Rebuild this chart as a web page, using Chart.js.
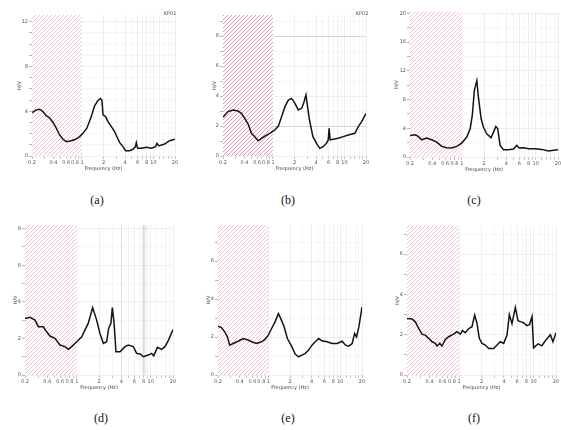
<!DOCTYPE html>
<html><head><meta charset="utf-8">
<script src="https://cdn.jsdelivr.net/npm/chart.js@4/dist/chart.umd.min.js"></script>
<style>
html,body{margin:0;padding:0;background:#fff;width:561px;height:430px;overflow:hidden;position:relative}
canvas{position:absolute}
.cap{position:absolute;font-family:"Liberation Serif","DejaVu Serif",serif;font-size:12px;transform:translate(-50%,-50%);color:#111;white-space:nowrap}
.tag{position:absolute;font-family:"DejaVu Sans",sans-serif;font-size:5px;color:#555;transform:translate(-50%,-50%);white-space:nowrap}
</style></head><body>
<script>
// ---- data ----
const xTickLabels = [0.2,0.4,0.6,0.8,1,2,4,6,8,10,20];
const xGridValues = [0.2,0.3,0.4,0.5,0.6,0.7,0.8,0.9,1,2,3,4,5,6,7,8,9,10,12,14,16,18,20];

const freqA = [0.2,0.23,0.256,0.285,0.317,0.346,0.394,0.438,0.487,0.543,0.604,0.71,0.816,0.929,1.03,1.17,1.35,1.5,1.67,1.82,1.9,1.97,2.14,2.31,2.58,2.86,3.0,3.37,3.75,4.08,4.64,5.17,5.6,5.75,6.0,6.76,7.96,9.34,10.7,11.2,11.9,14.3,16.8,20];
const hvA   = [3.88,4.12,4.18,3.97,3.58,3.46,2.99,2.48,1.88,1.49,1.28,1.37,1.49,1.73,2.03,2.48,3.52,4.48,4.96,5.13,5.0,3.67,3.52,3.07,2.63,2.18,1.88,1.19,0.84,0.48,0.48,0.6,0.84,1.19,0.69,0.69,0.78,0.69,0.84,1.13,0.9,1.07,1.37,1.49];

const freqB = [0.2,0.235,0.276,0.324,0.362,0.403,0.449,0.5,0.557,0.62,0.692,0.77,0.906,1.06,1.19,1.32,1.47,1.64,1.82,2.03,2.26,2.52,2.68,2.89,3.0,3.24,3.62,4.06,4.52,5.03,5.6,5.92,6.1,6.3,6.94,8.16,9.6,11.3,14.0,15.6,17.4,20];
const hvB   = [2.58,2.96,3.07,3.0,2.84,2.51,2.13,1.51,1.29,1.02,1.18,1.33,1.51,1.73,2.0,2.62,3.29,3.73,3.84,3.51,3.07,3.18,3.51,4.07,3.51,2.4,1.29,0.84,0.51,0.62,0.84,1.07,1.84,1.07,1.11,1.18,1.29,1.4,1.51,1.96,2.29,2.84];

const freqC = [0.2,0.234,0.259,0.288,0.336,0.393,0.459,0.537,0.627,0.733,0.857,1.0,1.17,1.3,1.39,1.48,1.6,1.68,1.83,1.96,2.18,2.49,2.69,2.89,3.07,3.3,3.67,4.28,5.0,5.55,5.96,6.84,7.98,9.82,12.1,14.9,17.4,20];
const hvC   = [3.0,3.1,2.87,2.4,2.64,2.4,2.08,1.48,1.3,1.25,1.48,1.94,2.78,3.94,5.79,9.26,10.65,8.33,5.32,4.17,3.24,2.69,3.47,4.26,3.94,1.62,1.02,1.02,1.11,1.62,1.25,1.3,1.16,1.16,1.06,0.83,0.93,1.02];

const freqD = [0.2,0.234,0.273,0.303,0.353,0.393,0.435,0.508,0.594,0.693,0.769,0.855,1.0,1.17,1.29,1.43,1.64,1.86,2.06,2.29,2.54,2.7,2.9,3.03,3.2,3.39,3.84,4.49,4.97,5.82,6.45,7.2,7.94,9.27,10.3,11.0,12.3,14.0,15.6,17.4,20];
const hvD   = [3.09,3.15,3.0,2.64,2.64,2.36,2.13,2.0,1.64,1.55,1.4,1.55,1.82,2.09,2.45,2.82,3.69,3.0,2.27,1.73,1.82,2.55,2.82,3.69,2.82,1.27,1.27,1.55,1.64,1.55,1.18,1.15,1.0,1.09,1.18,1.05,1.51,1.4,1.55,1.91,2.49];

const freqE = [0.2,0.223,0.248,0.27,0.291,0.324,0.381,0.448,0.525,0.585,0.687,0.807,0.898,1.0,1.11,1.24,1.38,1.49,1.66,1.84,2.12,2.36,2.63,2.93,3.26,3.63,4.04,4.49,5.0,5.57,6.54,7.68,9.02,10.6,11.8,13.1,14.6,15.8,16.8,18.1,20];
const hvE   = [2.57,2.5,2.27,2.01,1.57,1.66,1.78,1.92,1.84,1.75,1.66,1.75,1.87,2.1,2.45,2.8,3.23,2.97,2.53,1.92,1.49,1.1,0.96,1.05,1.14,1.31,1.57,1.75,1.92,1.8,1.75,1.66,1.66,1.78,1.57,1.52,1.66,2.19,2.01,2.53,3.58];

const freqF = [0.2,0.233,0.259,0.287,0.318,0.352,0.391,0.433,0.48,0.505,0.55,0.59,0.655,0.725,0.845,0.938,1.04,1.11,1.21,1.35,1.49,1.62,1.74,1.87,2.03,2.25,2.5,2.91,3.23,3.58,3.97,4.4,4.73,5.13,5.69,6.18,6.65,7.32,8.1,8.83,9.53,10.0,11.5,12.9,14.4,16.8,18.2,20];
const hvF   = [2.81,2.78,2.64,2.31,2.03,1.98,1.82,1.65,1.57,1.44,1.57,1.44,1.77,1.9,2.03,2.15,2.03,2.2,2.1,2.31,2.4,2.98,2.56,1.82,1.57,1.49,1.32,1.32,1.49,1.65,1.57,1.98,3.0,2.55,3.35,2.7,2.65,2.6,2.45,2.5,2.9,1.35,1.55,1.45,1.7,2.0,1.65,2.1];

const yLabelsA = [0,4,8,12], yGridA = [0,1,2,3,4,5,6,7,8,9,10,11,12];
const yLabelsB = [0,2,4,6,8], yGridB = [0,1,2,3,4,5,6,7,8,9];
const yLabelsC = [0,4,8,12,16,20], yGridC = [0,2,4,6,8,10,12,14,16,18,20];
const yLabelsD = [0,2,4,6,8], yGridD = [0,1,2,3,4,5,6,7,8];
const yLabelsE = [0,2,4,6], yGridE = [0,1,2,3,4,5,6,7];
const yLabelsF = [0,2,4,6], yGridF = [0,1,2,3,4,5,6,7];
const captions = ['(a)','(b)','(c)','(d)','(e)','(f)'];
const tags = ['KP01','KP02'];

// ---- layout / style ----
const PINK = 'rgb(245,192,208)';
const panels = [
  {freq:freqA, hv:hvA, yL:yLabelsA, yG:yGridA, ymax:12.6, left:32, top:15, right:175, bottom:156, tOff:12, hatch:PINK},
  {freq:freqB, hv:hvB, yL:yLabelsB, yG:yGridB, ymax:9.4, left:223, top:15, right:366, bottom:156, tOff:8, hatch:'rgb(232,150,182)', darkY:[2,8]},
  {freq:freqC, hv:hvC, yL:yLabelsC, yG:yGridC, ymax:20.2, left:410, top:12, right:558, bottom:157, tOff:13, hatch:PINK},
  {freq:freqD, hv:hvD, yL:yLabelsD, yG:yGridD, ymax:8.2, left:25, top:225, right:173, bottom:375, tOff:9, hatch:PINK, darkX:[1,4], band:[7.8,8.6]},
  {freq:freqE, hv:hvE, yL:yLabelsE, yG:yGridE, ymax:7.9, left:218, top:225, right:362, bottom:375, tOff:9, hatch:PINK},
  {freq:freqF, hv:hvF, yL:yLabelsF, yG:yGridF, ymax:7.4, left:407, top:226, right:556, bottom:375, tOff:9, hatch:PINK}
];
const capPos = [[97,200],[288,200],[474,200],[101,418],[288,418],[474,418]];
const tagPos = [[170,13],[362,13]];
const PAD_L = 30, PAD_T = 6, PAD_B = 22, PAD_R = 6;

function hatchPattern(ctx, color, shift) {
  const t = document.createElement('canvas');
  t.width = 4; t.height = 4;
  const c = t.getContext('2d');
  c.fillStyle = '#fff'; c.fillRect(0, 0, 4, 4);
  c.fillStyle = color;
  for (let i = 0; i < 4; i++) c.fillRect(((3 - i + shift) % 4 + 4) % 4, i, 1, 1);
  return ctx.createPattern(t, 'repeat');
}

function makeHatch(color, band, pageOffset) {
  return {
    id: 'hatch',
    beforeDatasetsDraw(chart) {
      const {ctx, chartArea: a, scales: {x}} = chart;
      if (band) {
        ctx.save();
        const b0 = x.getPixelForValue(band[0]), b1 = x.getPixelForValue(band[1]);
        ctx.fillStyle = 'rgba(0,0,0,0.035)';
        ctx.fillRect(b0, a.top, b1 - b0, a.bottom - a.top);
        ctx.strokeStyle = 'rgba(0,0,0,0.14)'; ctx.lineWidth = 0.6;
        [b0, (b0 + b1) / 2, b1].forEach(px => { ctx.beginPath(); ctx.moveTo(px, a.top); ctx.lineTo(px, a.bottom); ctx.stroke(); });
        ctx.restore();
      }
      const x0 = Math.round(x.getPixelForValue(0.2)), x1 = Math.round(x.getPixelForValue(1));
      const shift = ((2 - pageOffset - 3) % 4 + 8) % 4;
      ctx.save();
      ctx.fillStyle = hatchPattern(ctx, color, shift);
      ctx.fillRect(x0, Math.round(a.top), x1 - x0, Math.round(a.bottom) - Math.round(a.top));
      ctx.restore();
    }
  };
}

panels.forEach(p => {
  const w = p.right - p.left + PAD_L + PAD_R;
  const h = p.bottom - p.top + PAD_T + PAD_B;
  const cl = p.left - PAD_L, ct = p.top - PAD_T;
  const cv = document.createElement('canvas');
  cv.style.left = cl + 'px';
  cv.style.top = ct + 'px';
  cv.style.width = w + 'px'; cv.style.height = h + 'px';
  cv.width = w; cv.height = h;
  document.body.appendChild(cv);
  new Chart(cv, {
    type: 'line',
    data: {datasets: [{
      data: p.freq.map((f, i) => ({x: f, y: p.hv[i]})),
      borderColor: '#141414', borderWidth: 1.5, pointRadius: 0, tension: 0, fill: false
    }]},
    options: {
      responsive: false, animation: false, devicePixelRatio: 1,
      layout: {padding: {top: PAD_T, right: PAD_R, left: 0, bottom: 0}},
      plugins: {legend: {display: false}, tooltip: {enabled: false}},
      scales: {
        x: {
          type: 'logarithmic', min: 0.2, max: 20,
          afterBuildTicks: s => { s.ticks = xGridValues.map(v => ({value: v})); },
          afterFit: s => { s.height = PAD_B; },
          ticks: {autoSkip: false, maxRotation: 0, minRotation: 0, padding: 1,
                  font: {size: 5, family: 'DejaVu Sans'}, color: '#555',
                  callback: v => xTickLabels.includes(v) ? String(v) : ''},
          grid: {color: c => (p.darkX && c.tick && p.darkX.includes(c.tick.value)) ? '#cfcfcf' : (c.tick && xTickLabels.includes(c.tick.value) ? '#e6e6e6' : '#f0f0f0'),
                 lineWidth: 0.7, tickLength: 3, tickColor: '#aaa'},
          border: {display: false},
          title: {display: true, text: 'Frequency (Hz)', font: {size: 5, family: 'DejaVu Sans'}, color: '#444',
                  padding: {top: 0, bottom: 6.5}}
        },
        y: {
          min: 0, max: p.ymax,
          afterBuildTicks: s => { s.ticks = p.yG.map(v => ({value: v})); },
          afterFit: s => { s.width = PAD_L; },
          ticks: {autoSkip: false, padding: 1, font: {size: 5, family: 'DejaVu Sans'}, color: '#555',
                  callback: v => p.yL.includes(v) ? String(v) : ''},
          grid: {color: c => (p.darkY && c.tick && p.darkY.includes(c.tick.value)) ? '#c4c4c4' : (c.tick && p.yL.includes(c.tick.value) ? '#e6e6e6' : '#f1f1f1'),
                 lineWidth: 0.7, tickLength: 3, tickColor: '#999'},
          border: {display: false},
          title: {display: true, text: 'H/V', font: {size: 5, family: 'DejaVu Sans'}, color: '#444',
                  padding: {top: PAD_L - p.tOff - 3, bottom: 0}}
        }
      }
    },
    plugins: [makeHatch(p.hatch, p.band, cl + ct)]
  });
});

captions.forEach((t, i) => {
  const d = document.createElement('div'); d.className = 'cap'; d.textContent = t;
  d.style.left = capPos[i][0] + 'px'; d.style.top = capPos[i][1] + 'px';
  document.body.appendChild(d);
});
tags.forEach((t, i) => {
  const d = document.createElement('div'); d.className = 'tag'; d.textContent = t;
  d.style.left = tagPos[i][0] + 'px'; d.style.top = tagPos[i][1] + 'px';
  document.body.appendChild(d);
});
</script>
</body></html>
